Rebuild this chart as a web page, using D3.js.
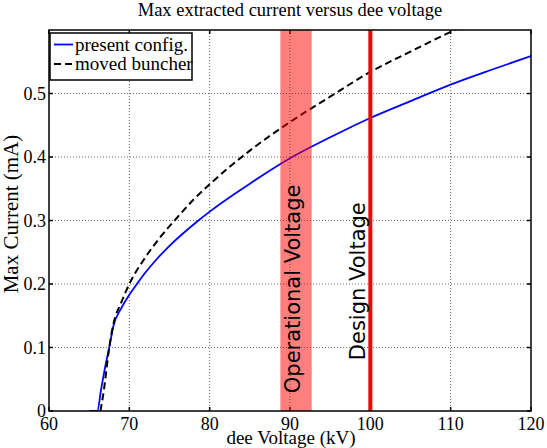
<!DOCTYPE html>
<html>
<head>
<meta charset="UTF-8">
<script src="https://cdn.jsdelivr.net/npm/d3@7"></script>
<style>
  body { margin: 0; background: #fff; }
  svg { display: block; }
</style>
</head>
<body>
<div id="chart"></div>
<script>
// data
var presentV = [65, 66, 66.5, 67, 67.5, 68, 69, 70, 71, 72, 73.4, 75, 78.6, 80, 85, 90, 95, 100, 105, 110, 115, 120];
var presentI = [0, 0, 0.035, 0.07, 0.1, 0.133, 0.162, 0.183, 0.201, 0.218, 0.239, 0.26, 0.30, 0.314, 0.358, 0.398, 0.431, 0.4615, 0.488, 0.514, 0.537, 0.559];
var buncherV = [66.4, 66.8, 67.5, 68, 69, 70, 72, 74, 75.7, 78, 80, 85, 90, 95, 100, 105, 110, 112];
var buncherI = [0, 0.03, 0.1, 0.136, 0.171, 0.2, 0.242, 0.276, 0.301, 0.333, 0.357, 0.41, 0.455, 0.495, 0.534, 0.566, 0.597, 0.609];
var xTicks = [60, 70, 80, 90, 100, 110, 120];
var yTicks = [0, 0.1, 0.2, 0.3, 0.4, 0.5];
var yTickLabels = ["0", "0.1", "0.2", "0.3", "0.4", "0.5"];
var opBand = [88.8, 92.7];   // operational voltage band (kV)
var designV = 100;           // design voltage (kV)

var W = 547, H = 448;
var pL = 49, pR = 531, pT = 30, pB = 411;   // plot box edges
var serif = "'Liberation Serif', 'Times New Roman', serif";
var sans = "'DejaVu Sans', sans-serif";

var x = d3.scaleLinear().domain([60, 120]).range([pL, pR]);
var y = d3.scaleLinear().domain([0, 0.6]).range([pB, pT]);

var svg = d3.select("#chart").append("svg")
    .attr("width", W).attr("height", H);

svg.append("rect").attr("width", W).attr("height", H).attr("fill", "#fff");

svg.append("clipPath").attr("id", "clip")
  .append("rect")
    .attr("x", pL).attr("y", pT)
    .attr("width", pR - pL).attr("height", pB - pT);

// grid
var grid = svg.append("g");
grid.selectAll(".gx").data(xTicks.slice(1, -1)).enter().append("line")
    .attr("x1", d => x(d)).attr("x2", d => x(d))
    .attr("y1", pT).attr("y2", pB)
    .attr("stroke", "#666").attr("stroke-width", 1).attr("stroke-dasharray", "1,2");
grid.selectAll(".gy").data(yTicks.slice(1)).enter().append("line")
    .attr("x1", pL).attr("x2", pR)
    .attr("y1", d => y(d)).attr("y2", d => y(d))
    .attr("stroke", "#666").attr("stroke-width", 1).attr("stroke-dasharray", "1,2");

// ticks on all four sides, pointing in
var tl = 4;
var ticks = svg.append("g").attr("stroke", "#000").attr("stroke-width", 1.5);
xTicks.forEach(function(d) {
  ticks.append("line").attr("x1", x(d)).attr("x2", x(d)).attr("y1", pB).attr("y2", pB - tl);
  ticks.append("line").attr("x1", x(d)).attr("x2", x(d)).attr("y1", pT).attr("y2", pT + tl);
});
yTicks.forEach(function(d) {
  ticks.append("line").attr("x1", pL).attr("x2", pL + tl).attr("y1", y(d)).attr("y2", y(d));
  ticks.append("line").attr("x1", pR).attr("x2", pR - tl).attr("y1", y(d)).attr("y2", y(d));
});

// curves
var line = d3.line().x(d => x(d[0])).y(d => y(d[1])).curve(d3.curveMonotoneX);
var plot = svg.append("g").attr("clip-path", "url(#clip)");
plot.append("path")
    .datum(d3.zip(presentV, presentI))
    .attr("d", line)
    .attr("fill", "none").attr("stroke", "#0000ff").attr("stroke-width", 1.8);
plot.append("path")
    .datum(d3.zip(buncherV, buncherI))
    .attr("d", line)
    .attr("fill", "none").attr("stroke", "#000").attr("stroke-width", 2)
    .attr("stroke-dasharray", "7,4");

// operational band and design line
plot.append("rect")
    .attr("x", x(opBand[0])).attr("width", x(opBand[1]) - x(opBand[0]))
    .attr("y", pT).attr("height", pB - pT)
    .attr("fill", "#ff0000").attr("fill-opacity", 0.5);
plot.append("line")
    .attr("x1", x(designV)).attr("x2", x(designV))
    .attr("y1", pT).attr("y2", pB)
    .attr("stroke", "#ff0000").attr("stroke-width", 4);

// annotations
svg.append("text")
    .attr("transform", "translate(" + x(91.3) + "," + y(0.028) + ") rotate(-90)")
    .attr("font-family", sans).attr("font-size", 21)
    .text("Operational Voltage");
svg.append("text")
    .attr("transform", "translate(" + x(99.3) + "," + y(0.08) + ") rotate(-90)")
    .attr("font-family", sans).attr("font-size", 21)
    .text("Design Voltage");

// frame
svg.append("rect")
    .attr("x", pL).attr("y", pT)
    .attr("width", pR - pL).attr("height", pB - pT)
    .attr("fill", "none").attr("stroke", "#000").attr("stroke-width", 1.5);

// tick labels
svg.selectAll(".xl").data(xTicks).enter().append("text")
    .attr("x", d => x(d)).attr("y", pB + 19)
    .attr("text-anchor", "middle")
    .attr("font-family", serif).attr("font-size", 18)
    .text(d => d);
svg.selectAll(".yl").data(yTicks).enter().append("text")
    .attr("x", pL - 3).attr("y", d => y(d) + 6)
    .attr("text-anchor", "end")
    .attr("font-family", serif).attr("font-size", 18)
    .text((d, i) => yTickLabels[i]);

// titles
svg.append("text")
    .attr("x", (pL + pR) / 2).attr("y", 16)
    .attr("text-anchor", "middle")
    .attr("font-family", serif).attr("font-size", 18.5)
    .text("Max extracted current versus dee voltage");
svg.append("text")
    .attr("x", 291).attr("y", 444)
    .attr("text-anchor", "middle")
    .attr("font-family", serif).attr("font-size", 19)
    .text("dee Voltage (kV)");
svg.append("text")
    .attr("transform", "translate(18,214) rotate(-90)")
    .attr("text-anchor", "middle")
    .attr("font-family", serif).attr("font-size", 21)
    .text("Max Current (mA)");

// legend
var lg = svg.append("g");
lg.append("rect")
    .attr("x", 50).attr("y", 33).attr("width", 142).attr("height", 47)
    .attr("fill", "#fff").attr("stroke", "#000").attr("stroke-width", 1.5);
var items = [
  { name: "present config.", color: "#0000ff", dash: null },
  { name: "moved buncher", color: "#000", dash: "7,4" }
];
items.forEach(function(it, i) {
  var yy = 44.5 + i * 19.5;
  lg.append("line")
      .attr("x1", 54).attr("x2", 73).attr("y1", yy).attr("y2", yy)
      .attr("stroke", it.color).attr("stroke-width", 1.8)
      .attr("stroke-dasharray", it.dash);
  lg.append("text")
      .attr("x", 75).attr("y", yy + 6)
      .attr("font-family", serif).attr("font-size", 19)
      .text(it.name);
});
</script>
</body>
</html>
